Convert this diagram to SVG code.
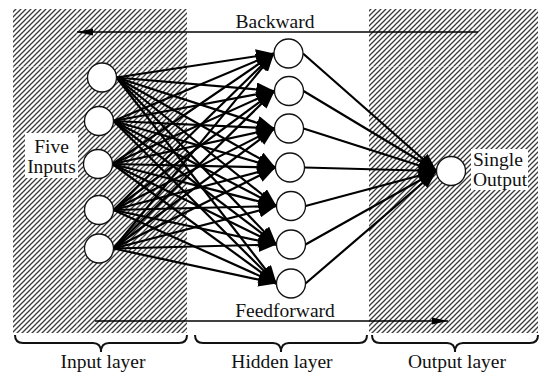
<svg xmlns="http://www.w3.org/2000/svg" width="540" height="374" viewBox="0 0 540 374">
<style>
  .txt{font-family:'Liberation Serif','Times New Roman','DejaVu Serif',serif;font-size:19.5px;fill:#111}
  .node{fill:#fff;stroke:#111;stroke-width:1.3}
  .conn{stroke:#000;stroke-width:2.2;fill:none}
  .flow{stroke:#000;stroke-width:1.7;fill:none}
  .brace{stroke:#111;stroke-width:2;fill:none}
  .seam{stroke:#fff;stroke-width:1;opacity:0.3}
</style>
<defs>
  <pattern id="hatch" patternUnits="userSpaceOnUse" width="5" height="5">
    <rect width="5" height="5" fill="#fff"/>
    <path d="M-1,6 L6,-1 M-2,2 L2,-2 M3,7 L7,3" stroke="#3a3a3a" stroke-width="1.3"/>
  </pattern>
  <marker id="ah" markerUnits="userSpaceOnUse" markerWidth="19" markerHeight="14" refX="18" refY="7" orient="auto" viewBox="0 0 19 14">
    <path d="M0,0 L18,7 L0,14 z" fill="#000"/>
  </marker>
  <marker id="fa" markerUnits="userSpaceOnUse" markerWidth="17" markerHeight="8" refX="16" refY="4" orient="auto" viewBox="0 0 17 8">
    <path d="M0,0.5 L16,4 L0,7.5 z" fill="#000"/>
  </marker>
</defs>
<g id="panels">
  <rect x="13" y="9" width="174" height="324" fill="url(#hatch)"/>
  <rect x="369" y="9" width="169" height="324" fill="url(#hatch)"/>
  <path class="seam" d="M77,9 V333 M143,9 V333 M13,66.5 H187 M473,9 V333 M369,66.5 H538"/>
</g>
<g id="labels-boxes">
  <rect x="25" y="133" width="53" height="45" fill="#fff"/>
  <rect x="471" y="149" width="57" height="41" fill="#fff"/>
</g>
<g id="connectors">
  <g class="conn" marker-end="url(#ah)">
    <path d="M116.5,77.5 L274,53.5"/><path d="M116.5,77.5 L274.5,91"/><path d="M116.5,77.5 L274.5,128.5"/><path d="M116.5,77.5 L275.5,167.5"/><path d="M116.5,77.5 L276.5,206"/><path d="M116.5,77.5 L276.5,244.5"/><path d="M116.5,77.5 L276.5,283.5"/>
    <path d="M113.5,121 L274,53.5"/><path d="M113.5,121 L274.5,91"/><path d="M113.5,121 L274.5,128.5"/><path d="M113.5,121 L275.5,167.5"/><path d="M113.5,121 L276.5,206"/><path d="M113.5,121 L276.5,244.5"/><path d="M113.5,121 L276.5,283.5"/>
    <path d="M112.5,164 L274,53.5"/><path d="M112.5,164 L274.5,91"/><path d="M112.5,164 L274.5,128.5"/><path d="M112.5,164 L275.5,167.5"/><path d="M112.5,164 L276.5,206"/><path d="M112.5,164 L276.5,244.5"/><path d="M112.5,164 L276.5,283.5"/>
    <path d="M113.5,210 L274,53.5"/><path d="M113.5,210 L274.5,91"/><path d="M113.5,210 L274.5,128.5"/><path d="M113.5,210 L275.5,167.5"/><path d="M113.5,210 L276.5,206"/><path d="M113.5,210 L276.5,244.5"/><path d="M113.5,210 L276.5,283.5"/>
    <path d="M113.5,248.5 L274,53.5"/><path d="M113.5,248.5 L274.5,91"/><path d="M113.5,248.5 L274.5,128.5"/><path d="M113.5,248.5 L275.5,167.5"/><path d="M113.5,248.5 L276.5,206"/><path d="M113.5,248.5 L276.5,244.5"/><path d="M113.5,248.5 L276.5,283.5"/>
    <path d="M303,53.5 L436.5,171"/><path d="M303.5,91 L436.5,171"/><path d="M303.5,128.5 L436.5,171"/><path d="M304.5,167.5 L436.5,171"/><path d="M305.5,206 L436.5,171"/><path d="M305.5,244.5 L436.5,171"/><path d="M305.5,283.5 L436.5,171"/>
  </g>
  <path class="flow" d="M478,32 L77,32" marker-end="url(#fa)"/>
  <path class="flow" d="M95,321 L448,321" marker-end="url(#fa)"/>
</g>
<g id="input-nodes">
  <circle id="in1" class="node" cx="102" cy="77.5" r="14.5"/>
  <circle id="in2" class="node" cx="99" cy="121" r="14.5"/>
  <circle id="in3" class="node" cx="98" cy="164" r="14.5"/>
  <circle id="in4" class="node" cx="99" cy="210" r="14.5"/>
  <circle id="in5" class="node" cx="99" cy="248.5" r="14.5"/>
</g>
<g id="hidden-nodes">
  <circle id="h1" class="node" cx="288.5" cy="53.5" r="14.5"/>
  <circle id="h2" class="node" cx="289" cy="91" r="14.5"/>
  <circle id="h3" class="node" cx="289" cy="128.5" r="14.5"/>
  <circle id="h4" class="node" cx="290" cy="167.5" r="14.5"/>
  <circle id="h5" class="node" cx="291" cy="206" r="14.5"/>
  <circle id="h6" class="node" cx="291" cy="244.5" r="14.5"/>
  <circle id="h7" class="node" cx="291" cy="283.5" r="14.5"/>
</g>
<g id="output-node">
  <circle id="out1" class="node" cx="451" cy="171" r="14.5"/>
</g>
<g id="texts">
  <text class="txt" x="275" y="28" text-anchor="middle">Backward</text>
  <text class="txt" x="285" y="317" text-anchor="middle">Feedforward</text>
  <text class="txt" x="51.5" y="153" text-anchor="middle">Five</text>
  <text class="txt" x="51.5" y="173" text-anchor="middle">Inputs</text>
  <text class="txt" x="473" y="166">Single</text>
  <text class="txt" x="473" y="186">Output</text>
  <text class="txt" x="103" y="368" text-anchor="middle">Input layer</text>
  <text class="txt" x="282" y="368" text-anchor="middle">Hidden layer</text>
  <text class="txt" x="457" y="368" text-anchor="middle">Output layer</text>
</g>
<g id="braces">
  <path class="brace" d="M15,335 Q15,343 23,343 L93,343 Q101,343 101,352 Q101,343 109,343 L179,343 Q187,343 187,335"/>
  <path class="brace" d="M195,335 Q195,343 203,343 L273,343 Q281,343 281,352 Q281,343 289,343 L359,343 Q367,343 367,335"/>
  <path class="brace" d="M372,335 Q372,343 380,343 L447,343 Q455,343 455,352 Q455,343 463,343 L530,343 Q538,343 538,335"/>
</g>
</svg>
